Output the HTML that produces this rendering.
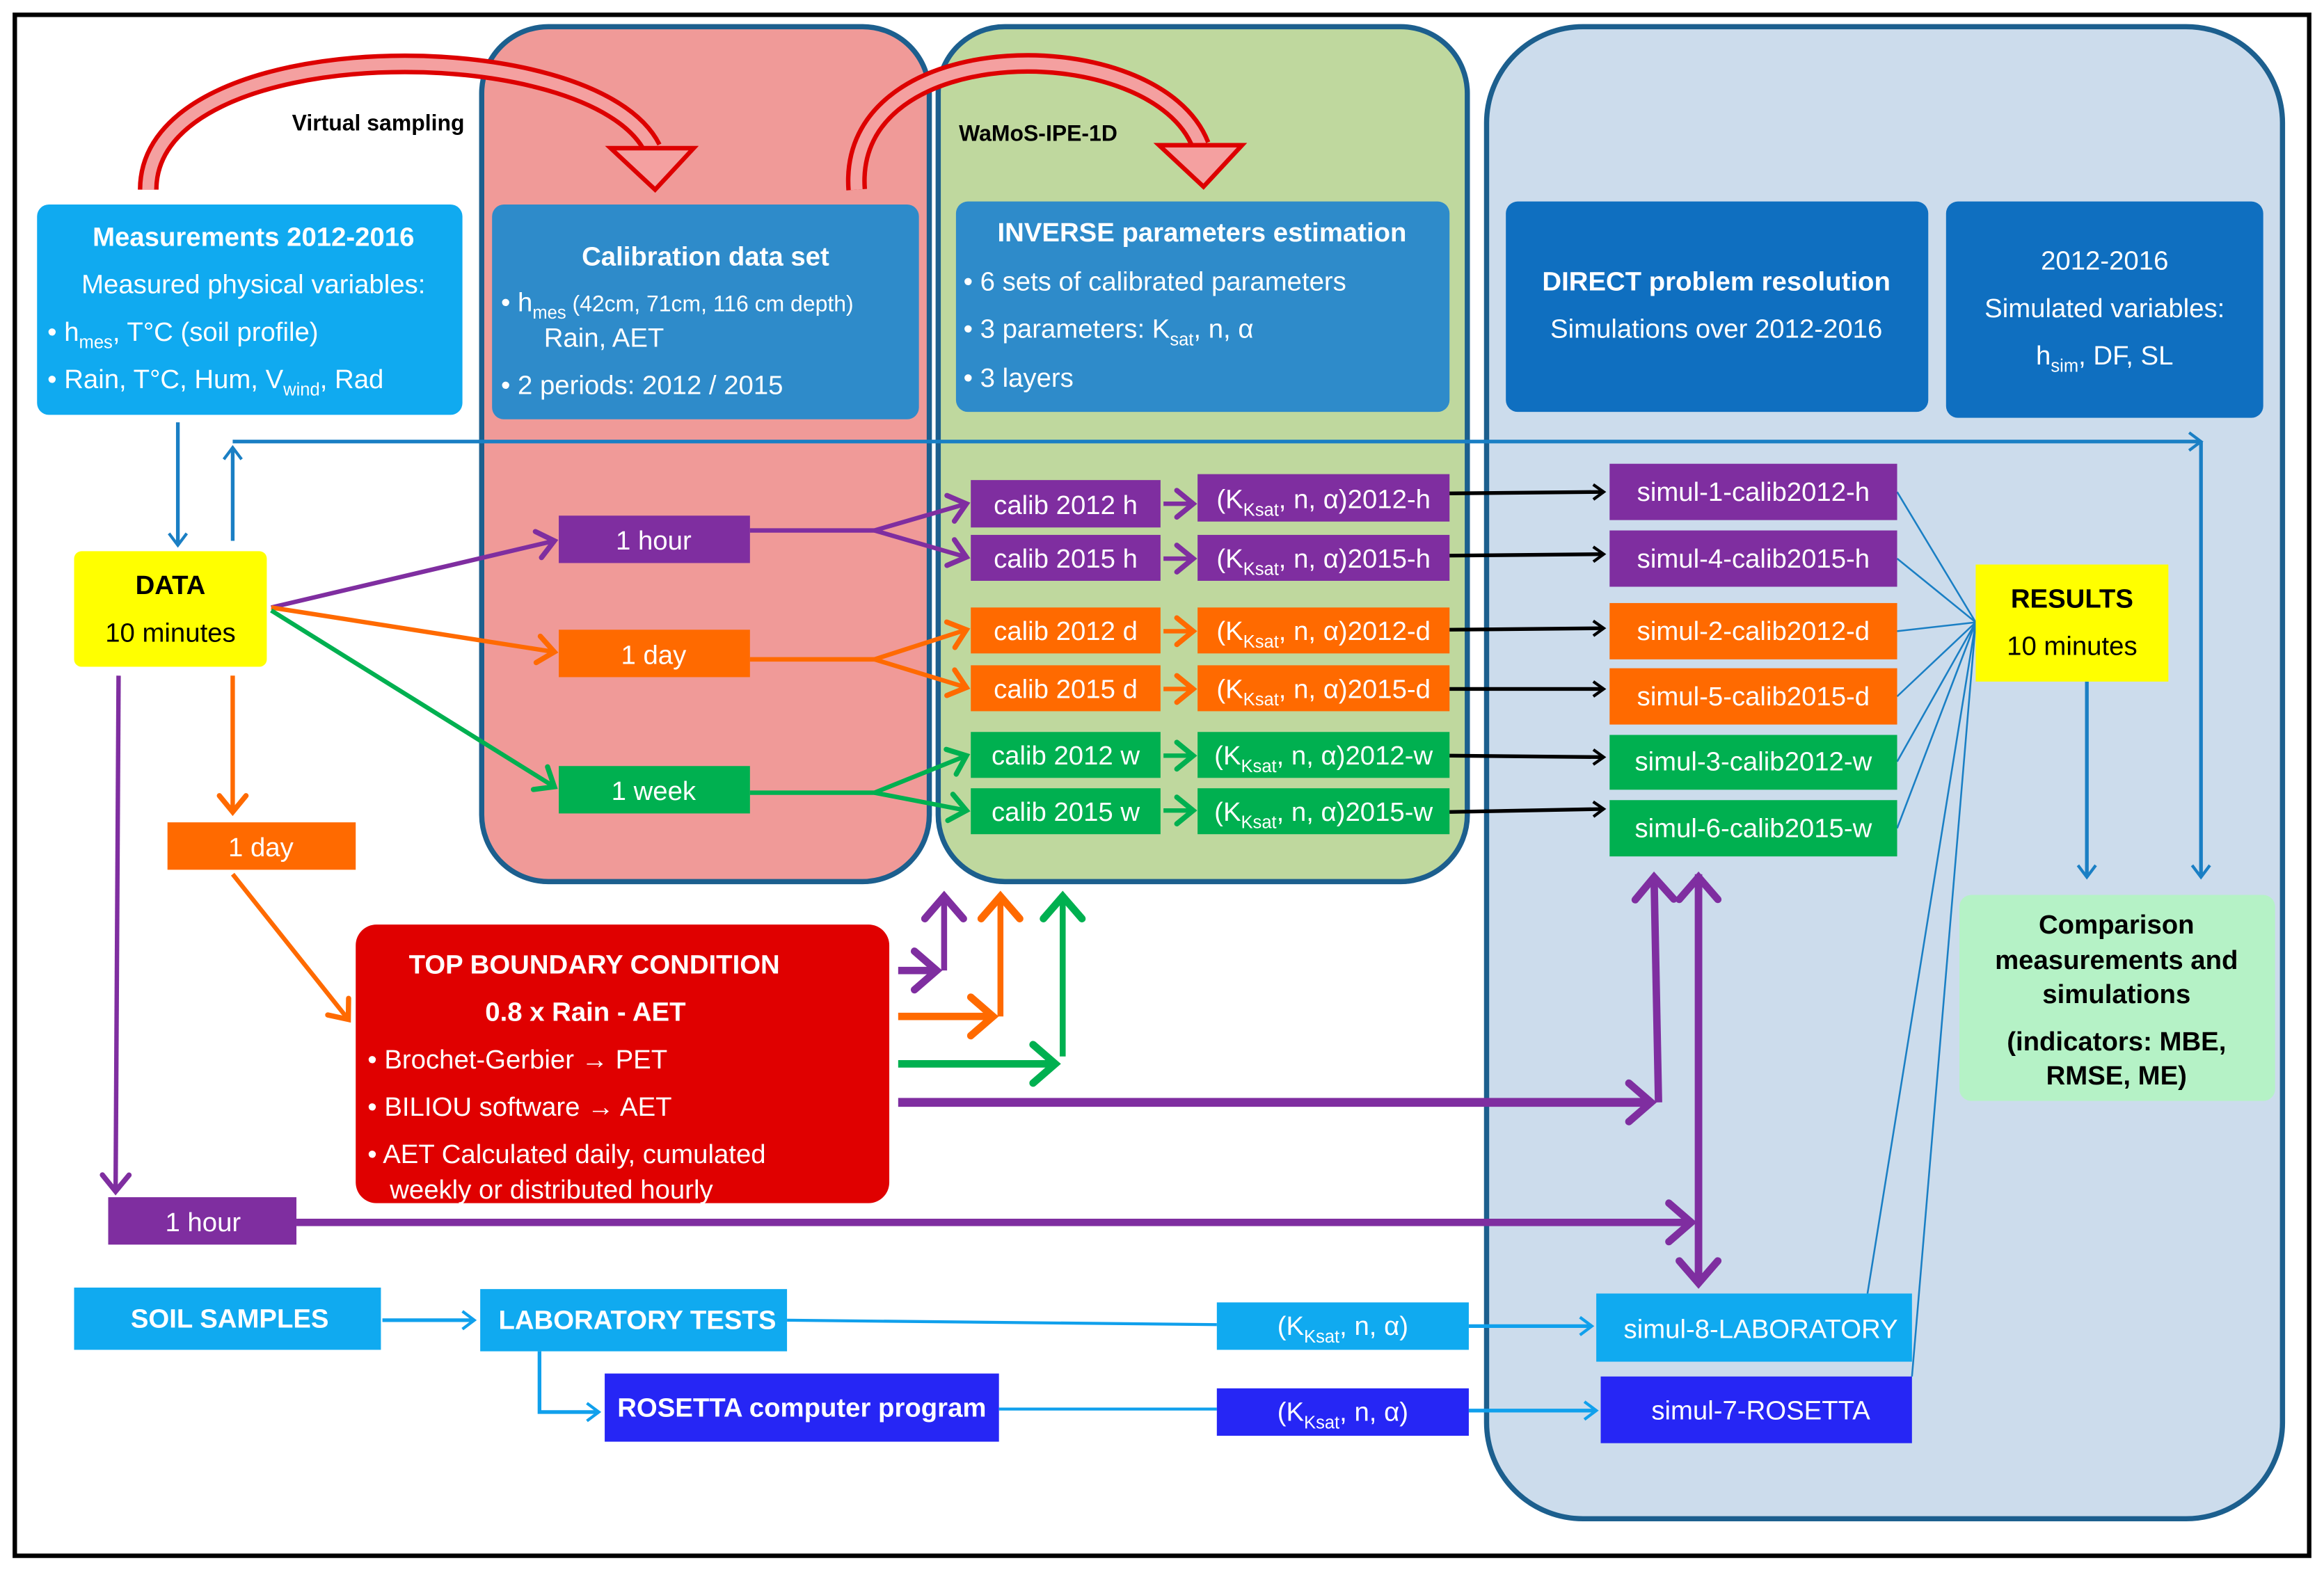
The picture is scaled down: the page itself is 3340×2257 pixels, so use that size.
<!DOCTYPE html>
<html><head><meta charset="utf-8"><style>
html,body{margin:0;padding:0;background:#fff}
svg{display:block}
text{font-family:"Liberation Sans",Arial,sans-serif;}
.w{fill:#fff;font-size:18px}
.wb{fill:#fff;font-size:18px;font-weight:bold}
.k{fill:#000;font-size:18px}
.kb{fill:#000;font-size:18px;font-weight:bold}
</style></head><body>
<svg width="3340" height="2257" viewBox="0 0 1568 1059.6" preserveAspectRatio="none" xmlns="http://www.w3.org/2000/svg">
<defs>
<marker id="ab" markerUnits="userSpaceOnUse" markerWidth="20" markerHeight="20" refX="10" refY="10" orient="auto"><path d="M2,4 L10,10 L2,16" fill="none" stroke="#1a7fc4" stroke-width="2"/></marker>
<marker id="al" markerUnits="userSpaceOnUse" markerWidth="20" markerHeight="20" refX="10" refY="10" orient="auto"><path d="M2,4 L10,10 L2,16" fill="none" stroke="#10a0ec" stroke-width="2"/></marker>
<marker id="ak" markerUnits="userSpaceOnUse" markerWidth="20" markerHeight="20" refX="10" refY="10" orient="auto"><path d="M3,5 L10,10 L3,15" fill="none" stroke="#000" stroke-width="2"/></marker>
<marker id="ap" markerUnits="userSpaceOnUse" markerWidth="30" markerHeight="30" refX="15" refY="15" orient="auto"><path d="M4,6 L15,15 L4,24" fill="none" stroke="#7f2ea0" stroke-width="3.5" stroke-linecap="round"/></marker>
<marker id="ao" markerUnits="userSpaceOnUse" markerWidth="30" markerHeight="30" refX="15" refY="15" orient="auto"><path d="M4,6 L15,15 L4,24" fill="none" stroke="#ff6a00" stroke-width="3.5" stroke-linecap="round"/></marker>
<marker id="ag" markerUnits="userSpaceOnUse" markerWidth="30" markerHeight="30" refX="15" refY="15" orient="auto"><path d="M4,6 L15,15 L4,24" fill="none" stroke="#00b050" stroke-width="3.5" stroke-linecap="round"/></marker>
<marker id="aP" markerUnits="userSpaceOnUse" markerWidth="40" markerHeight="40" refX="20" refY="20" orient="auto"><path d="M5,7 L20,20 L5,33" fill="none" stroke="#7f2ea0" stroke-width="5" stroke-linecap="round"/></marker>
<marker id="aO" markerUnits="userSpaceOnUse" markerWidth="40" markerHeight="40" refX="20" refY="20" orient="auto"><path d="M5,7 L20,20 L5,33" fill="none" stroke="#ff6a00" stroke-width="5" stroke-linecap="round"/></marker>
<marker id="aG" markerUnits="userSpaceOnUse" markerWidth="40" markerHeight="40" refX="20" refY="20" orient="auto"><path d="M5,7 L20,20 L5,33" fill="none" stroke="#00b050" stroke-width="5" stroke-linecap="round"/></marker>
</defs>

<rect x="10" y="10" width="1548" height="1040" fill="#fff" stroke="#000" stroke-width="3"/>

<!-- panels -->
<rect x="325" y="18" width="302" height="577" rx="45" fill="#f09a98" stroke="#1c5f8e" stroke-width="3.5"/>
<rect x="633" y="18" width="357" height="577" rx="45" fill="#bfd89e" stroke="#1c5f8e" stroke-width="3.5"/>
<rect x="1003" y="18" width="537" height="1007" rx="65" fill="#ccdcec" stroke="#1c5f8e" stroke-width="3.5"/>

<!-- red curved arrows -->
<path d="M100,128 C100,20 400,20 440,100" fill="none" stroke="#d00" stroke-width="14"/>
<path d="M100,128 C100,20 400,20 440,100" fill="none" stroke="#f4a0a0" stroke-width="8"/>
<path d="M412,100 L468,100 L442,128 Z" fill="#f4a0a0" stroke="#d00" stroke-width="3"/>
<path d="M578,128 C570,20 780,20 810,98" fill="none" stroke="#d00" stroke-width="14"/>
<path d="M578,128 C570,20 780,20 810,98" fill="none" stroke="#f4a0a0" stroke-width="8"/>
<path d="M782,98 L838,98 L812,126 Z" fill="#f4a0a0" stroke="#d00" stroke-width="3"/>
<text x="197" y="88" style="font-size:15px;font-weight:bold" fill="#000">Virtual sampling</text>
<text x="647" y="95" style="font-size:15px;font-weight:bold" fill="#000">WaMoS-IPE-1D</text>

<!-- top boxes -->
<rect x="25" y="138" width="287" height="142" rx="8" fill="#10aaf0"/>
<text x="171" y="166" class="wb" text-anchor="middle">Measurements 2012-2016</text>
<text x="171" y="198" class="w" text-anchor="middle">Measured  physical variables:</text>
<text x="32" y="230" class="w">•   h<tspan font-size="12" dy="5">mes</tspan><tspan dy="-5">, T°C (soil profile)</tspan></text>
<text x="32" y="262" class="w">•   Rain, T°C, Hum, V<tspan font-size="12" dy="5">wind</tspan><tspan dy="-5">, Rad</tspan></text>

<rect x="332" y="138" width="288" height="145" rx="8" fill="#2e8bca"/>
<text x="476" y="179" class="wb" text-anchor="middle">Calibration data set</text>
<text x="338" y="210" class="w">•   h<tspan font-size="12" dy="5">mes</tspan><tspan dy="-5" font-size="15"> (42cm, 71cm, 116 cm depth)</tspan></text>
<text x="367" y="234" class="w">Rain, AET</text>
<text x="338" y="266" class="w">•   2 periods: 2012 / 2015</text>

<rect x="645" y="136" width="333" height="142" rx="8" fill="#2e8bca"/>
<text x="811" y="163" class="wb" text-anchor="middle">INVERSE parameters estimation</text>
<text x="650" y="196" class="w">•    6 sets of calibrated parameters</text>
<text x="650" y="228" class="w">•    3 parameters: K<tspan font-size="12" dy="5">sat</tspan><tspan dy="-5">, n, α</tspan></text>
<text x="650" y="261" class="w">•    3 layers</text>

<rect x="1016" y="136" width="285" height="142" rx="8" fill="#0f6fc0"/>
<text x="1158" y="196" class="wb" text-anchor="middle">DIRECT problem  resolution</text>
<text x="1158" y="228" class="w" text-anchor="middle">Simulations over 2012-2016</text>

<rect x="1313" y="136" width="214" height="146" rx="8" fill="#0f6fc0"/>
<text x="1420" y="182" class="w" text-anchor="middle">2012-2016</text>
<text x="1420" y="214" class="w" text-anchor="middle">Simulated variables:</text>
<text x="1420" y="246" class="w" text-anchor="middle">h<tspan font-size="12" dy="5">sim</tspan><tspan dy="-5">, DF, SL</tspan></text>

<!-- blue lines -->
<line x1="120" y1="285" x2="120" y2="368" stroke="#1a7fc4" stroke-width="2.5" marker-end="url(#ab)"/>
<line x1="157" y1="365" x2="157" y2="302" stroke="#1a7fc4" stroke-width="2.5" marker-end="url(#ab)"/>
<polyline points="157,298 1485,298" fill="none" stroke="#1a7fc4" stroke-width="2.5" marker-end="url(#ab)"/>
<line x1="1485" y1="298" x2="1485" y2="592" stroke="#1a7fc4" stroke-width="2.5" marker-end="url(#ab)"/>
<line x1="1408" y1="460" x2="1408" y2="592" stroke="#1a7fc4" stroke-width="2.5" marker-end="url(#ab)"/>

<!-- DATA -->
<rect x="50" y="372" width="130" height="78" rx="5" fill="#ffff00"/>
<text x="115" y="401" class="kb" text-anchor="middle">DATA</text>
<text x="115" y="433" class="k" text-anchor="middle">10 minutes</text>

<!-- DATA to intervals -->
<line x1="183" y1="410" x2="374" y2="365" stroke="#7f2ea0" stroke-width="3" marker-end="url(#ap)"/>
<line x1="183" y1="410" x2="374" y2="440" stroke="#ff6a00" stroke-width="3" marker-end="url(#ao)"/>
<line x1="183" y1="412" x2="374" y2="531" stroke="#00b050" stroke-width="3" marker-end="url(#ag)"/>

<rect x="377" y="348" width="129" height="32" fill="#7f2ea0"/>
<text x="441" y="371" class="w" text-anchor="middle">1 hour</text>
<rect x="377" y="425" width="129" height="32" fill="#ff6a00"/>
<text x="441" y="448" class="w" text-anchor="middle">1 day</text>
<rect x="377" y="517" width="129" height="32" fill="#00b050"/>
<text x="441" y="540" class="w" text-anchor="middle">1 week</text>

<!-- to calib -->
<polyline points="506,358 590,358 652,340" fill="none" stroke="#7f2ea0" stroke-width="3" marker-end="url(#ap)"/>
<polyline points="590,358 652,376" fill="none" stroke="#7f2ea0" stroke-width="3" marker-end="url(#ap)"/>
<polyline points="506,445 590,445 652,425" fill="none" stroke="#ff6a00" stroke-width="3" marker-end="url(#ao)"/>
<polyline points="590,445 652,464" fill="none" stroke="#ff6a00" stroke-width="3" marker-end="url(#ao)"/>
<polyline points="506,535 590,535 652,510" fill="none" stroke="#00b050" stroke-width="3" marker-end="url(#ag)"/>
<polyline points="590,535 652,547" fill="none" stroke="#00b050" stroke-width="3" marker-end="url(#ag)"/>

<!-- calib and param boxes -->
<g>
<rect x="655" y="324" width="128" height="32" fill="#7f2ea0"/><text x="719" y="347" class="w" text-anchor="middle">calib 2012 h</text>
<rect x="655" y="361" width="128" height="31" fill="#7f2ea0"/><text x="719" y="383" class="w" text-anchor="middle">calib 2015 h</text>
<rect x="655" y="410" width="128" height="31" fill="#ff6a00"/><text x="719" y="432" class="w" text-anchor="middle">calib 2012 d</text>
<rect x="655" y="449" width="128" height="31" fill="#ff6a00"/><text x="719" y="471" class="w" text-anchor="middle">calib 2015 d</text>
<rect x="655" y="494" width="128" height="31" fill="#00b050"/><text x="719" y="516" class="w" text-anchor="middle">calib 2012 w</text>
<rect x="655" y="532" width="128" height="31" fill="#00b050"/><text x="719" y="554" class="w" text-anchor="middle">calib 2015 w</text>
</g>
<line x1="785" y1="340" x2="805" y2="340" stroke="#7f2ea0" stroke-width="3" marker-end="url(#ap)"/>
<line x1="785" y1="377" x2="805" y2="377" stroke="#7f2ea0" stroke-width="3" marker-end="url(#ap)"/>
<line x1="785" y1="426" x2="805" y2="426" stroke="#ff6a00" stroke-width="3" marker-end="url(#ao)"/>
<line x1="785" y1="465" x2="805" y2="465" stroke="#ff6a00" stroke-width="3" marker-end="url(#ao)"/>
<line x1="785" y1="510" x2="805" y2="510" stroke="#00b050" stroke-width="3" marker-end="url(#ag)"/>
<line x1="785" y1="547" x2="805" y2="547" stroke="#00b050" stroke-width="3" marker-end="url(#ag)"/>
<g>
<rect x="808" y="320" width="170" height="32" fill="#7f2ea0"/><text x="893" y="343" class="w" text-anchor="middle">(K<tspan font-size="12" dy="5">Ksat</tspan><tspan dy="-5">, n, α)2012-h</tspan></text>
<rect x="808" y="361" width="170" height="31" fill="#7f2ea0"/><text x="893" y="383" class="w" text-anchor="middle">(K<tspan font-size="12" dy="5">Ksat</tspan><tspan dy="-5">, n, α)2015-h</tspan></text>
<rect x="808" y="410" width="170" height="31" fill="#ff6a00"/><text x="893" y="432" class="w" text-anchor="middle">(K<tspan font-size="12" dy="5">Ksat</tspan><tspan dy="-5">, n, α)2012-d</tspan></text>
<rect x="808" y="449" width="170" height="31" fill="#ff6a00"/><text x="893" y="471" class="w" text-anchor="middle">(K<tspan font-size="12" dy="5">Ksat</tspan><tspan dy="-5">, n, α)2015-d</tspan></text>
<rect x="808" y="494" width="170" height="31" fill="#00b050"/><text x="893" y="516" class="w" text-anchor="middle">(K<tspan font-size="12" dy="5">Ksat</tspan><tspan dy="-5">, n, α)2012-w</tspan></text>
<rect x="808" y="532" width="170" height="31" fill="#00b050"/><text x="893" y="554" class="w" text-anchor="middle">(K<tspan font-size="12" dy="5">Ksat</tspan><tspan dy="-5">, n, α)2015-w</tspan></text>
</g>
<g stroke="#000" stroke-width="2.5">
<line x1="978" y1="333" x2="1082" y2="332" marker-end="url(#ak)"/>
<line x1="978" y1="375" x2="1082" y2="374" marker-end="url(#ak)"/>
<line x1="978" y1="425" x2="1082" y2="424" marker-end="url(#ak)"/>
<line x1="978" y1="465" x2="1082" y2="465" marker-end="url(#ak)"/>
<line x1="978" y1="510" x2="1082" y2="511" marker-end="url(#ak)"/>
<line x1="978" y1="548" x2="1082" y2="546" marker-end="url(#ak)"/>
</g>

<!-- thin lines to RESULTS -->
<g stroke="#1a7fc4" stroke-width="1.2">
<line x1="1280" y1="332" x2="1333" y2="420"/>
<line x1="1280" y1="377" x2="1333" y2="420"/>
<line x1="1280" y1="426" x2="1333" y2="420"/>
<line x1="1280" y1="470" x2="1333" y2="420"/>
<line x1="1280" y1="514" x2="1333" y2="420"/>
<line x1="1280" y1="559" x2="1333" y2="420"/>
<line x1="1260" y1="873" x2="1333" y2="420"/>
<line x1="1290" y1="929" x2="1333" y2="420"/>
</g>

<!-- simul boxes -->
<rect x="1086" y="313" width="194" height="38" fill="#7f2ea0"/><text x="1183" y="338" class="w" text-anchor="middle">simul-1-calib2012-h</text>
<rect x="1086" y="358" width="194" height="38" fill="#7f2ea0"/><text x="1183" y="383" class="w" text-anchor="middle">simul-4-calib2015-h</text>
<rect x="1086" y="407" width="194" height="38" fill="#ff6a00"/><text x="1183" y="432" class="w" text-anchor="middle">simul-2-calib2012-d</text>
<rect x="1086" y="451" width="194" height="38" fill="#ff6a00"/><text x="1183" y="476" class="w" text-anchor="middle">simul-5-calib2015-d</text>
<rect x="1086" y="496" width="194" height="37" fill="#00b050"/><text x="1183" y="520" class="w" text-anchor="middle">simul-3-calib2012-w</text>
<rect x="1086" y="540" width="194" height="38" fill="#00b050"/><text x="1183" y="565" class="w" text-anchor="middle">simul-6-calib2015-w</text>

<!-- RESULTS -->
<rect x="1333" y="381" width="130" height="79" fill="#ffff00"/>
<text x="1398" y="410" class="kb" text-anchor="middle">RESULTS</text>
<text x="1398" y="442" class="k" text-anchor="middle">10 minutes</text>

<rect x="1322" y="604" width="213" height="139" rx="8" fill="#b5f2c6"/>
<g class="kb" text-anchor="middle">
<text x="1428" y="630" class="kb">Comparison</text>
<text x="1428" y="654" class="kb">measurements and</text>
<text x="1428" y="677" class="kb">simulations</text>
<text x="1428" y="709" class="kb">(indicators: MBE,</text>
<text x="1428" y="732" class="kb">RMSE, ME)</text>
</g>

<!-- left vertical lines -->
<line x1="157" y1="456" x2="157" y2="548" stroke="#ff6a00" stroke-width="3" marker-end="url(#ao)"/>
<rect x="113" y="555" width="127" height="32" fill="#ff6a00"/>
<text x="176" y="578" class="w" text-anchor="middle">1 day</text>
<line x1="157" y1="590" x2="235" y2="688" stroke="#ff6a00" stroke-width="3" marker-end="url(#ao)"/>
<line x1="80" y1="456" x2="78" y2="804" stroke="#7f2ea0" stroke-width="3" marker-end="url(#ap)"/>

<!-- TOP BOUNDARY -->
<rect x="240" y="624" width="360" height="188" rx="14" fill="#e00000"/>
<text x="401" y="657" class="wb" text-anchor="middle">TOP BOUNDARY CONDITION</text>
<text x="395" y="689" class="wb" text-anchor="middle">0.8 x Rain - AET</text>
<text x="248" y="721" class="w">• Brochet-Gerbier → PET</text>
<text x="248" y="753" class="w">• BILIOU software → AET</text>
<text x="248" y="785" class="w">• AET Calculated daily, cumulated</text>
<text x="263" y="809" class="w">weekly or  distributed hourly</text>

<!-- thick arrows from boundary -->
<line x1="606" y1="655" x2="632" y2="655" stroke="#7f2ea0" stroke-width="5" marker-end="url(#aP)"/>
<line x1="637" y1="655" x2="637" y2="605" stroke="#7f2ea0" stroke-width="4" marker-end="url(#aP)"/>
<line x1="606" y1="686" x2="670" y2="686" stroke="#ff6a00" stroke-width="5" marker-end="url(#aO)"/>
<line x1="675" y1="686" x2="675" y2="605" stroke="#ff6a00" stroke-width="4" marker-end="url(#aO)"/>
<line x1="606" y1="718" x2="712" y2="718" stroke="#00b050" stroke-width="5" marker-end="url(#aG)"/>
<line x1="717" y1="713" x2="717" y2="605" stroke="#00b050" stroke-width="4" marker-end="url(#aG)"/>
<line x1="606" y1="744" x2="1114" y2="744" stroke="#7f2ea0" stroke-width="6" marker-end="url(#aP)"/>
<line x1="1119" y1="744" x2="1116" y2="592" stroke="#7f2ea0" stroke-width="5" marker-end="url(#aP)"/>
<line x1="1146" y1="590" x2="1146" y2="866" stroke="#7f2ea0" stroke-width="5" marker-end="url(#aP)"/>
<line x1="1146" y1="866" x2="1146" y2="592" stroke="#7f2ea0" stroke-width="5" marker-end="url(#aP)"/>
<line x1="200" y1="825" x2="1141" y2="825" stroke="#7f2ea0" stroke-width="5" marker-end="url(#aP)"/>

<rect x="73" y="808" width="127" height="32" fill="#7f2ea0"/>
<text x="137" y="831" class="w" text-anchor="middle">1 hour</text>

<!-- bottom -->
<rect x="50" y="869" width="207" height="42" fill="#10aaf0"/>
<text x="155" y="896" class="wb" text-anchor="middle">SOIL SAMPLES</text>
<line x1="258" y1="891" x2="320" y2="891" stroke="#10a0ec" stroke-width="2.5" marker-end="url(#al)"/>
<rect x="324" y="870" width="207" height="42" fill="#10aaf0"/>
<text x="430" y="897" class="wb" text-anchor="middle">LABORATORY TESTS</text>
<polyline points="364,912 364,953 404,953" fill="none" stroke="#10a0ec" stroke-width="2.5" marker-end="url(#al)"/>
<rect x="408" y="927" width="266" height="46" fill="#2626f5"/>
<text x="541" y="956" class="wb" text-anchor="middle">ROSETTA computer program</text>
<line x1="531" y1="891" x2="821" y2="894" stroke="#10a0ec" stroke-width="2"/>
<line x1="674" y1="951" x2="821" y2="951" stroke="#10a0ec" stroke-width="2"/>
<rect x="821" y="879" width="170" height="32" fill="#10aaf0"/>
<text x="906" y="901" class="w" text-anchor="middle">(K<tspan font-size="12" dy="5">Ksat</tspan><tspan dy="-5">, n, α)</tspan></text>
<rect x="821" y="937" width="170" height="32" fill="#2626f5"/>
<text x="906" y="959" class="w" text-anchor="middle">(K<tspan font-size="12" dy="5">Ksat</tspan><tspan dy="-5">, n, α)</tspan></text>
<line x1="991" y1="895" x2="1074" y2="895" stroke="#10a0ec" stroke-width="2.5" marker-end="url(#al)"/>
<line x1="991" y1="952" x2="1077" y2="952" stroke="#10a0ec" stroke-width="2.5" marker-end="url(#al)"/>
<rect x="1077" y="873" width="213" height="46" fill="#10aaf0"/>
<text x="1188" y="903" class="w" text-anchor="middle">simul-8-LABORATORY</text>
<rect x="1080" y="929" width="210" height="45" fill="#2626f5"/>
<text x="1188" y="958" class="w" text-anchor="middle">simul-7-ROSETTA</text>
</svg>
</body></html>
